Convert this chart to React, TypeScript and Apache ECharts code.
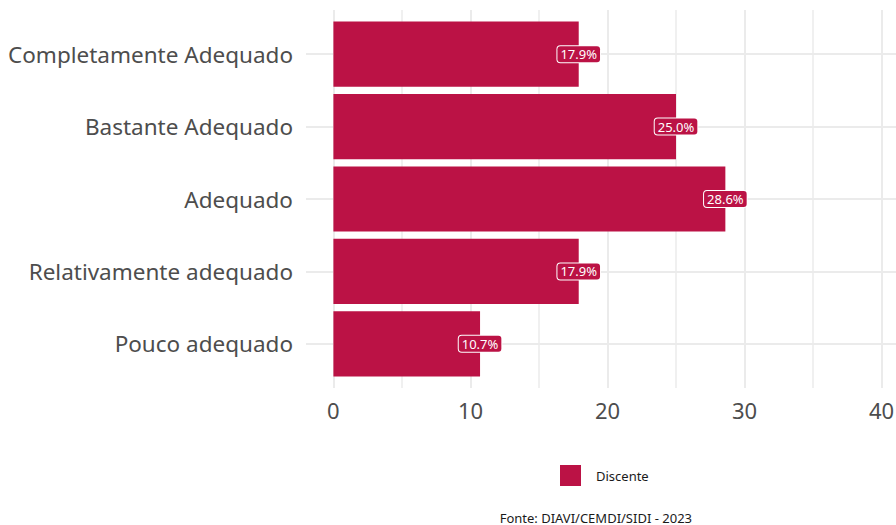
import React, { useEffect, useRef } from "react";
import * as echarts from "echarts";

const categories = [
  "Pouco adequado",
  "Relativamente adequado",
  "Adequado",
  "Bastante Adequado",
  "Completamente Adequado",
];
const values = [10.7, 17.9, 28.6, 25.0, 17.9];
const seriesName = "Discente";
const xTickLabels = [0, 10, 20, 30, 40];
const xMinorGrid = [5, 15, 25, 35];
const caption = "Fonte: DIAVI/CEMDI/SIDI - 2023";

const FONT = "'Noto Sans', sans-serif";
const BAR = "#BB1245";
const GRID = "#EBEBEB";

export default function App() {
  const ref = useRef<HTMLDivElement>(null);
  useEffect(() => {
    if (!ref.current) return;
    const chart = echarts.init(ref.current, null, { renderer: "svg" });
    const xMin = -2;
    const xMax = 42;
    chart.setOption({
      animation: false,
      textStyle: { fontFamily: FONT },
      grid: [
        { left: 306, width: 603, top: 18, bottom: 145, outerBoundsMode: "none", containLabel: false },
        { left: 306, width: 603, top: 10, bottom: 137, outerBoundsMode: "none", containLabel: false },
      ],
      xAxis: [
        { type: "value", gridIndex: 0, min: xMin, max: xMax, show: false },
        {
          type: "value",
          gridIndex: 1,
          min: xMin,
          max: xMax,
          axisLine: { show: false },
          axisTick: { show: false },
          splitLine: { show: false },
          axisLabel: {
            customValues: xTickLabels,
            color: "#4D4D4D",
            fontSize: 22,
            margin: 11,
            fontFamily: FONT,
          },
        },
      ],
      yAxis: [
        {
          type: "category",
          gridIndex: 0,
          data: categories,
          axisLine: { show: false },
          axisTick: { show: false },
          splitLine: { show: false },
          axisLabel: { color: "#4D4D4D", fontSize: 22.5, margin: 13, fontFamily: FONT },
        },
        { type: "value", gridIndex: 1, min: 0, max: 1, show: false },
      ],
      legend: {
        data: [seriesName],
        left: 560,
        top: 465,
        padding: 0,
        icon: "rect",
        itemWidth: 21,
        itemHeight: 21,
        textStyle: { fontSize: 13, color: "#1A1A1A", padding: [0, 0, 0, 10], fontFamily: FONT },
      },
      title: {
        text: caption,
        right: 204,
        top: 511,
        padding: 0,
        textStyle: { fontSize: 13, fontWeight: "normal", color: "#1A1A1A", fontFamily: FONT },
      },
      series: [
        {
          type: "line",
          xAxisIndex: 1,
          yAxisIndex: 1,
          data: [],
          z: 0,
          silent: true,
          markLine: {
            silent: true,
            z: 0,
            symbol: "none",
            label: { show: false },
            data: [
              ...xTickLabels.map((v) => ({ xAxis: v, lineStyle: { color: GRID, width: 2, type: "solid" } })),
              ...xMinorGrid.map((v) => ({ xAxis: v, lineStyle: { color: GRID, width: 1.5, type: "solid" } })),
            ],
          },
        },
        {
          type: "line",
          xAxisIndex: 0,
          yAxisIndex: 0,
          data: [],
          z: 0,
          silent: true,
          markLine: {
            silent: true,
            z: 0,
            symbol: "none",
            label: { show: false },
            data: categories.map((c) => ({ yAxis: c, lineStyle: { color: GRID, width: 2, type: "solid" } })),
          },
        },
        {
          name: seriesName,
          type: "bar",
          xAxisIndex: 0,
          yAxisIndex: 0,
          data: values,
          z: 3,
          barCategoryGap: "10%",
          itemStyle: { color: BAR },
          label: {
            show: true,
            position: ["100%", "50%"],
            align: "center",
            verticalAlign: "middle",
            formatter: (p: any) => Number(p.value).toFixed(1) + "%",
            color: "#FFFFFF",
            fontSize: 13,
            fontFamily: FONT,
            backgroundColor: BAR,
            borderColor: "#FFFFFF",
            borderWidth: 1,
            borderRadius: 3,
            padding: [2, 3, 1, 3],
          },
        },
      ],
    });
    return () => chart.dispose();
  }, []);
  return <div ref={ref} style={{ width: 896, height: 525, position: "absolute", left: 0, top: 0 }} />;
}
